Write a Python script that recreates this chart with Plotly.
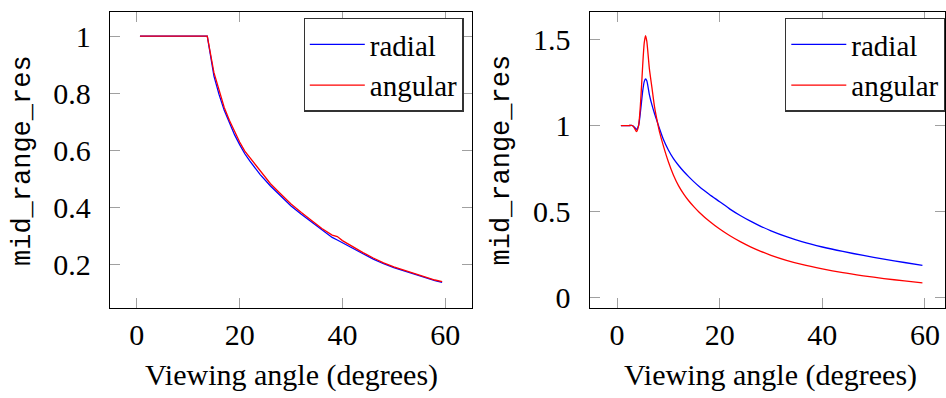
import plotly.graph_objects as go

# ---------------- data ----------------
# Left panel
left_x = [0.6, 3, 6, 9, 12, 13.7, 15, 16, 17, 18, 19, 20, 21, 22, 23, 24, 26, 28,
          30, 32, 34, 36, 38, 39, 40, 42, 44, 46, 48, 50, 52, 54, 56, 58, 59.4]
left_radial = [1.0, 1.0, 1.0, 1.0, 1.0, 1.0, 0.860, 0.795, 0.740, 0.695, 0.655, 0.620,
               0.588, 0.562, 0.537, 0.515, 0.475, 0.440, 0.405, 0.376, 0.348, 0.320,
               0.295, 0.286, 0.277, 0.257, 0.238, 0.219, 0.203, 0.189, 0.178, 0.166,
               0.155, 0.144, 0.138]
left_angular = [1.0, 1.0, 1.0, 1.0, 1.0, 1.0, 0.872, 0.806, 0.750, 0.705, 0.665, 0.629,
                0.597, 0.574, 0.552, 0.525, 0.483, 0.447, 0.412, 0.382, 0.354, 0.326,
                0.303, 0.298, 0.284, 0.262, 0.242, 0.223, 0.206, 0.192, 0.180, 0.168,
                0.157, 0.146, 0.140]

# Right panel
right_x = [0.75, 1.5, 2.25, 3.0, 3.4, 3.8, 4.2, 4.6, 5.0, 5.3, 5.55, 5.8, 6.3, 6.8,
           7.3, 7.8, 8.3, 9.0, 10, 11, 12, 13, 14, 15, 16, 18, 20, 22, 24, 26, 28,
           30, 33, 36, 40, 44, 48, 52, 56, 59.5]
right_radial = [1.0, 1.0, 1.0, 1.0, 0.99, 0.978, 1.0, 1.09, 1.20, 1.255, 1.27, 1.26,
                1.18, 1.12, 1.07, 1.025, 0.98, 0.922, 0.858, 0.808, 0.768, 0.733, 0.702,
                0.673, 0.646, 0.600, 0.558, 0.515, 0.478, 0.445, 0.415, 0.389, 0.355,
                0.326, 0.295, 0.269, 0.246, 0.225, 0.205, 0.188]
right_angular = [1.0, 1.0, 1.0, 1.0, 0.985, 0.965, 1.0, 1.14, 1.35, 1.48, 1.522, 1.49,
                 1.33, 1.22, 1.11, 1.03, 0.96, 0.885, 0.79, 0.712, 0.650, 0.602, 0.562,
                 0.528, 0.497, 0.444, 0.399, 0.360, 0.326, 0.296, 0.270, 0.247, 0.218,
                 0.194, 0.168, 0.146, 0.128, 0.112, 0.098, 0.087]

x_ticks = [0, 20, 40, 60]
x_tick_text = ["0", "20", "40", "60"]
left_y_ticks = [0.2, 0.4, 0.6, 0.8, 1.0]
left_y_text = ["0.2", "0.4", "0.6", "0.8", "1"]
right_y_ticks = [0, 0.5, 1.0, 1.5]
right_y_text = ["0", "0.5", "1", "1.5"]

series_names = ["radial", "angular"]
series_colors = ["#0000ff", "#ff0000"]

x_title = "Viewing angle (degrees)"
y_title = "mid_range_res"

# ---------------- figure ----------------
W, H = 946, 398
SERIF = "Liberation Serif, Times New Roman, DejaVu Serif, serif"
MONO = "Liberation Mono, DejaVu Sans Mono, monospace"
FS = 30

fig = go.Figure()

for xs, ys, name, col in [(left_x, left_radial, series_names[0], series_colors[0]),
                          (left_x, left_angular, series_names[1], series_colors[1])]:
    fig.add_trace(go.Scatter(x=xs, y=ys, mode="lines", name=name,
                             line=dict(color=col, width=1.3),
                             xaxis="x", yaxis="y", legend="legend"))
for xs, ys, name, col in [(right_x, right_radial, series_names[0], series_colors[0]),
                          (right_x, right_angular, series_names[1], series_colors[1])]:
    fig.add_trace(go.Scatter(x=xs, y=ys, mode="lines", name=name,
                             line=dict(color=col, width=1.3, shape="spline", smoothing=0.6),
                             xaxis="x2", yaxis="y2", legend="legend2"))

y_dom = [(H - 312.7) / H, (H - 12) / H]
left_dom = [110 / W, 472.7 / W]
right_dom = [590.3 / W, 1.0]

axis_common = dict(showline=True, linecolor="#000000", linewidth=1.2, mirror="ticks",
                   ticks="inside", ticklen=10, tickwidth=1.3, tickcolor="#a0a0a0",
                   showgrid=False, zeroline=False,
                   tickfont=dict(family=SERIF, size=FS, color="#000000"))

legend_common = dict(y=1 - 18 / H, xanchor="right", yanchor="top",
                     bgcolor="white", bordercolor="#333333", borderwidth=1.3,
                     itemwidth=55, tracegroupgap=0,
                     font=dict(family=SERIF, size=29, color="#000000"))

fig.update_layout(
    width=W, height=H,
    margin=dict(l=0, r=0, t=0, b=0),
    paper_bgcolor="white", plot_bgcolor="white",
    showlegend=True,
    xaxis=dict(domain=left_dom, range=[-5.25, 65.25], anchor="y",
               tickvals=x_ticks, ticktext=x_tick_text, **axis_common),
    yaxis=dict(domain=y_dom, range=[0.048, 1.085], anchor="x", ticklabelstandoff=12,
               tickvals=left_y_ticks, ticktext=left_y_text, **axis_common),
    xaxis2=dict(domain=right_dom, range=[-5.33, 63.9], anchor="y2",
                tickvals=x_ticks, ticktext=x_tick_text, **axis_common),
    yaxis2=dict(domain=y_dom, range=[-0.059, 1.66], anchor="x2", ticklabelstandoff=12,
                tickvals=right_y_ticks, ticktext=right_y_text, **axis_common),
    legend=dict(x=464 / W, **legend_common),
    legend2=dict(x=1.0, **legend_common),
)

annotations = []
for cx in [(110 + 472.7) / 2, (590.3 + 953) / 2]:
    annotations.append(dict(text=x_title, xref="paper", yref="paper",
                            x=cx / W, y=1 - 381 / H, xanchor="center", yanchor="middle",
                            showarrow=False, font=dict(family=SERIF, size=FS, color="#000000")))
for cx in [23, 503]:
    annotations.append(dict(text=y_title, xref="paper", yref="paper",
                            x=cx / W, y=1 - 162.5 / H, xanchor="center", yanchor="middle",
                            textangle=-90, showarrow=False,
                            font=dict(family=MONO, size=27, color="#000000")))
fig.update_layout(annotations=annotations)

fig.write_html("out.html")
